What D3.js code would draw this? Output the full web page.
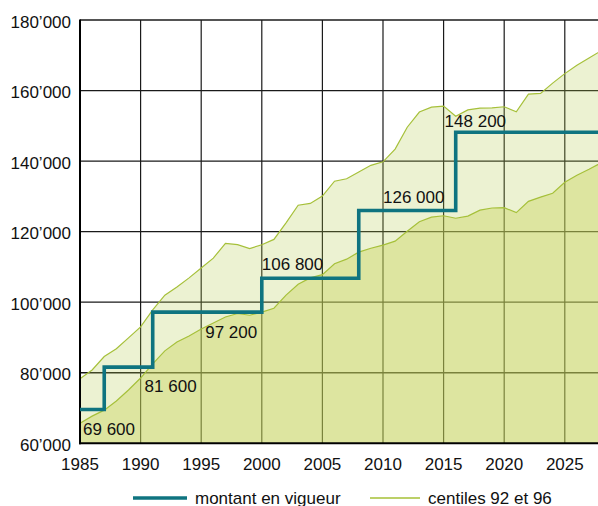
<!DOCTYPE html>
<html>
<head>
<meta charset="utf-8">
<script src="https://cdn.jsdelivr.net/npm/d3@7"></script>
<style>
  body { margin: 0; background: #fff; }
  svg { display: block; font-family: "Liberation Sans", Arial, Helvetica, sans-serif; }
</style>
</head>
<body>
<svg id="chart"></svg>
<script>
// yearly values of the 92nd and 96th centiles
var years = [1985, 1986, 1987, 1988, 1989, 1990, 1991, 1992, 1993, 1994,
  1995, 1996, 1997, 1998, 1999, 2000, 2001, 2002, 2003, 2004,
  2005, 2006, 2007, 2008, 2009, 2010, 2011, 2012, 2013, 2014,
  2015, 2016, 2017, 2018, 2019, 2020, 2021, 2022, 2023, 2024,
  2025, 2026, 2027, 2028];

var centile96 = [78300, 80800, 84600, 86800, 89900, 93000, 97800, 102000, 104300, 106900,
  109700, 112500, 116700, 116300, 115200, 116300, 117800, 122500, 127500, 128000,
  130100, 134300, 135000, 136900, 138800, 139800, 143400, 149600, 153900, 155300,
  155600, 152700, 154500, 155000, 155100, 155400, 154000, 159000, 159200, 162100,
  164800, 167200, 169200, 171300];

var centile92 = [65700, 67700, 69400, 72000, 75100, 78500, 82500, 86200, 88700, 90400,
  92400, 94100, 95800, 96800, 96300, 97200, 98300, 102000, 105100, 106900,
  107800, 110900, 112200, 114200, 115300, 116200, 117300, 120100, 122800, 124100,
  124500, 123800, 124400, 126100, 126700, 126800, 125400, 128600, 129800, 130900,
  134000, 136000, 137700, 139500];

// amount in force (steps)
var stepYears = [1985, 1987, 1991, 2000, 2008, 2016];
var stepValues = [69600, 81600, 97200, 106800, 126000, 148200];
var stepLabels = ["69 600", "81 600", "97 200", "106 800", "126 000", "148 200"];

var xTicks = [1985, 1990, 1995, 2000, 2005, 2010, 2015, 2020, 2025];
var yTicks = [60000, 80000, 100000, 120000, 140000, 160000, 180000];

var legendLabels = ["montant en vigueur", "centiles 92 et 96"];

// layout (don't call these top/left: window.top is taken)
var W = 598, H = 506;
var plotL = 80, plotR = 598, plotT = 20, plotB = 443.3;

// where each step label sits: anchor year, dx, dy from the step line
var labelPos = [
  [1985, 3, 25.5], [1990, 4, 25], [1995, 4, 26],
  [2000, 0, -8], [2010, 0, -7.5], [2015, 1, -4.8]
];

var svg = d3.select("#chart").attr("width", W).attr("height", H);

var x = d3.scaleLinear().domain([1985, 2027.74]).range([plotL, plotR]);
var y = d3.scaleLinear().domain([60000, 180000]).range([plotB, plotT]);

var gridColor = "#1a1a1a";

// grid first, the fills are see-through on top of it
svg.append("g").selectAll("line")
  .data(xTicks.slice(1))
  .enter().append("line")
  .attr("x1", d => x(d)).attr("x2", d => x(d))
  .attr("y1", plotT).attr("y2", plotB)
  .attr("stroke", gridColor).attr("stroke-width", 1.2);

svg.append("g").selectAll("line")
  .data(yTicks.slice(1))
  .enter().append("line")
  .attr("x1", plotL).attr("x2", plotR)
  .attr("y1", d => y(d)).attr("y2", d => y(d))
  .attr("stroke", gridColor).attr("stroke-width", 1.3);

var rows = years.map(function(yr, i) {
  return { year: yr, hi: centile96[i], lo: centile92[i] };
});

var areaHi = d3.area().x(d => x(d.year)).y0(y(60000)).y1(d => y(d.hi));
var areaLo = d3.area().x(d => x(d.year)).y0(y(60000)).y1(d => y(d.lo));

svg.append("path").datum(rows).attr("d", areaHi)
  .attr("fill", "rgb(179,203,75)").attr("fill-opacity", 0.25);
svg.append("path").datum(rows).attr("d", areaLo)
  .attr("fill", "rgb(200,211,91)").attr("fill-opacity", 0.42);

var curveColor = "#a6c03a";
svg.append("path").datum(rows)
  .attr("d", d3.line().x(d => x(d.year)).y(d => y(d.hi)))
  .attr("fill", "none").attr("stroke", curveColor).attr("stroke-width", 1.2);
svg.append("path").datum(rows)
  .attr("d", d3.line().x(d => x(d.year)).y(d => y(d.lo)))
  .attr("fill", "none").attr("stroke", curveColor).attr("stroke-width", 1.2);

// axes frame
svg.append("line").attr("x1", plotL).attr("x2", plotL).attr("y1", plotT - 0.6).attr("y2", plotB + 1)
  .attr("stroke", "#000").attr("stroke-width", 2);
svg.append("line").attr("x1", plotL - 1).attr("x2", plotR).attr("y1", plotB).attr("y2", plotB)
  .attr("stroke", "#000").attr("stroke-width", 2);

// the step line
var steps = stepYears.map((yr, i) => [yr, stepValues[i]]);
steps.push([2028, stepValues[stepValues.length - 1]]);
var teal = "#0f7480";
svg.append("path").datum(steps)
  .attr("d", d3.line().x(d => x(d[0])).y(d => y(d[1])).curve(d3.curveStepAfter))
  .attr("fill", "none").attr("stroke", teal).attr("stroke-width", 3.6);

svg.append("g").selectAll("text")
  .data(stepLabels)
  .enter().append("text")
  .attr("x", (d, i) => x(labelPos[i][0]) + labelPos[i][1])
  .attr("y", (d, i) => y(stepValues[i]) + labelPos[i][2])
  .attr("font-size", 17).attr("fill", "#111")
  .text(d => d);

// tick labels
svg.append("g").selectAll("text")
  .data(yTicks)
  .enter().append("text")
  .attr("x", 71).attr("y", d => y(d)).attr("dy", "0.45em")
  .attr("text-anchor", "end").attr("font-size", 17).attr("fill", "#111")
  .text(d => (d / 1000) + "\u2019000");

svg.append("g").selectAll("text")
  .data(xTicks)
  .enter().append("text")
  .attr("x", d => x(d)).attr("y", 470)
  .attr("text-anchor", "middle").attr("font-size", 17).attr("fill", "#111")
  .text(d => d);

// legend
var legend = svg.append("g");
legend.append("line").attr("x1", 133).attr("x2", 187).attr("y1", 498).attr("y2", 498)
  .attr("stroke", teal).attr("stroke-width", 3.6);
legend.append("text").attr("x", 195).attr("y", 504).attr("font-size", 17).attr("fill", "#111")
  .text(legendLabels[0]);
legend.append("line").attr("x1", 370).attr("x2", 420).attr("y1", 498).attr("y2", 498)
  .attr("stroke", "#bcd068").attr("stroke-width", 2);
legend.append("text").attr("x", 428).attr("y", 504).attr("font-size", 17).attr("fill", "#111")
  .text(legendLabels[1]);
</script>
</body>
</html>
